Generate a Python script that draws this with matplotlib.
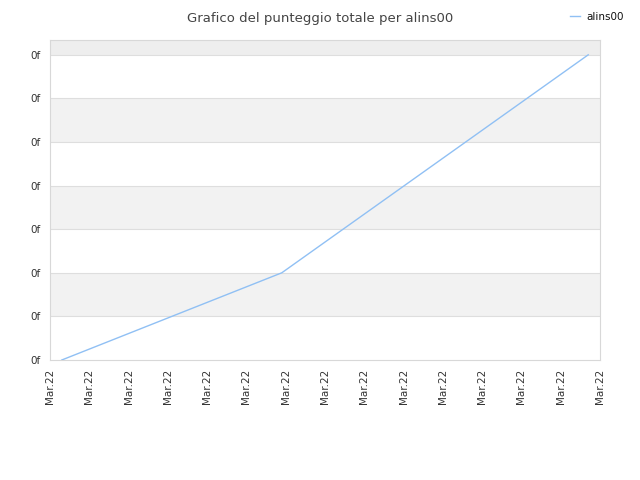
import matplotlib
matplotlib.use("Agg")
import matplotlib.pyplot as plt
from matplotlib.ticker import FixedLocator, FixedFormatter

series_name = "alins00"
title = "Grafico del punteggio totale per alins00"
x_positions = [0.3, 5.9, 13.7]
y_values = [0, 2, 7]
x_tick_labels = ["Mar.22"] * 15
y_tick_labels = ["0f"] * 8

fig = plt.figure(figsize=(6.4, 4.8), dpi=100)
ax = fig.add_axes([50/640, 120/480, 550/640, 320/480])

ymax = 7.34
ax.set_xlim(0, 14)
ax.set_ylim(0, ymax)

# alternating bands
for i in range(8):
    lo, hi = i, min(i + 1, ymax)
    if i % 2 == 1:
        c = "#eeeeee" if i == 7 else "#f2f2f2"
        ax.axhspan(lo, hi, color=c, lw=0, zorder=0)

for i in range(1, 8):
    ax.axhline(i, color="#dedede", lw=0.8, zorder=1)

ax.plot(x_positions, y_values, color="#90c0f4", lw=1, zorder=3, label=series_name)

ax.xaxis.set_major_locator(FixedLocator(list(range(15))))
ax.xaxis.set_major_formatter(FixedFormatter(x_tick_labels))
ax.yaxis.set_major_locator(FixedLocator(list(range(8))))
ax.yaxis.set_major_formatter(FixedFormatter(y_tick_labels))
ax.tick_params(axis="x", length=0, labelsize=7.5, labelcolor="#333333", rotation=90, pad=6)
ax.tick_params(axis="y", length=0, labelsize=7.5, labelcolor="#333333", pad=7)

for s in ax.spines.values():
    s.set_color("#d8d8d8")
    s.set_linewidth(0.8)

fig.text(0.5, 0.975, title, ha="center", va="top", fontsize=9.5, color="#444444")
fig.legend(loc="upper right", bbox_to_anchor=(0.99, 0.995), frameon=False,
           fontsize=7.5, handlelength=1.0, handletextpad=0.6, labelcolor="#111111")

fig.savefig("out.png", dpi=100)
